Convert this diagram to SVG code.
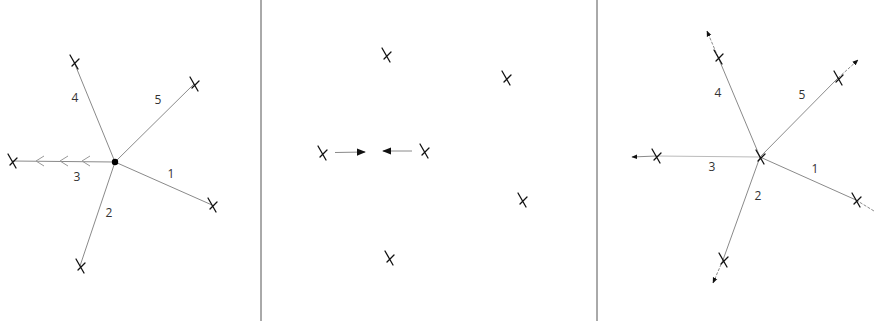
<svg xmlns="http://www.w3.org/2000/svg" xmlns:xlink="http://www.w3.org/1999/xlink" width="874" height="324" viewBox="0 0 874 324">
<style>
.bg{fill:#fff}
.div{stroke:#555;stroke-width:1}
.edge{stroke:#8a8a8a;stroke-width:1;fill:none}
.ext{stroke:#8a8a8a;stroke-width:1;fill:none;stroke-dasharray:3 1.5}
.chev{stroke:#999;stroke-width:1;fill:none}
.mk{stroke:#111;stroke-width:1.3;fill:none;stroke-linecap:round}
.lbl{font-family:"Open Sans","Liberation Sans",sans-serif;font-size:12px;fill:#333;text-anchor:middle}
</style>
<defs>
<g id="xm"><path class="mk" d="M-4,-7 L4,7 M-2,4 L5,-3"/></g>
<marker id="ah" viewBox="0 0 10 10" refX="9" refY="5" markerWidth="9" markerHeight="9" markerUnits="userSpaceOnUse" orient="auto"><path d="M0,1 L10,5 L0,9 Z" fill="#111"/></marker>
<marker id="ahs" viewBox="0 0 10 10" refX="9" refY="5" markerWidth="6" markerHeight="6" markerUnits="userSpaceOnUse" orient="auto"><path d="M0,1 L10,5 L0,9 Z" fill="#111"/></marker>
</defs>
<rect class="bg" width="874" height="324"/>
<line class="div" x1="261" y1="0" x2="261" y2="321"/>
<line class="div" x1="597" y1="0" x2="597" y2="321"/>

<g id="connectors">
  <!-- panel 1 -->
  <line class="edge" x1="115" y1="162" x2="74" y2="62"/>
  <line class="edge" x1="115" y1="162" x2="194" y2="84"/>
  <line class="edge" x1="115" y1="162" x2="12" y2="161"/>
  <line class="edge" x1="115" y1="162" x2="212" y2="205"/>
  <line class="edge" x1="115" y1="162" x2="80" y2="266"/>
  <path class="chev" d="M44,156 L36,161 L44,166 M68,156 L60,161 L68,166 M90,156 L82,161 L90,166"/>
  <!-- panel 2 -->
  <line class="edge" x1="335" y1="152.5" x2="365" y2="152" marker-end="url(#ah)"/>
  <line class="edge" x1="412" y1="151" x2="383" y2="151" marker-end="url(#ah)"/>
  <!-- panel 3 -->
  <line class="edge" x1="760" y1="157" x2="718" y2="57"/>
  <line class="ext" x1="718" y1="57" x2="707" y2="31" marker-end="url(#ahs)"/>
  <line class="edge" x1="760" y1="157" x2="838" y2="78"/>
  <line class="ext" x1="838" y1="78" x2="858" y2="60" marker-end="url(#ahs)"/>
  <line class="edge" x1="760" y1="157" x2="656" y2="156" style="stroke:#bbb"/>
  <line class="edge" x1="656" y1="156" x2="632" y2="157" marker-end="url(#ahs)"/>
  <line class="edge" x1="760" y1="157" x2="856" y2="200"/>
  <line class="ext" x1="856" y1="200" x2="874" y2="211"/>
  <line class="edge" x1="760" y1="157" x2="723" y2="260"/>
  <line class="ext" x1="723" y1="260" x2="713" y2="283" marker-end="url(#ahs)"/>
</g>

<g id="p1-center"><circle cx="115" cy="162" r="3.2" fill="#000"/></g>
<g id="p1-n4"><use xlink:href="#xm" x="74" y="62"/><text class="lbl" x="75" y="102">4</text></g>
<g id="p1-n5"><use xlink:href="#xm" x="194" y="84"/><text class="lbl" x="158" y="104">5</text></g>
<g id="p1-n3"><use xlink:href="#xm" x="12" y="161"/><text class="lbl" x="77" y="181">3</text></g>
<g id="p1-n1"><use xlink:href="#xm" x="212" y="205"/><text class="lbl" x="171" y="178">1</text></g>
<g id="p1-n2"><use xlink:href="#xm" x="80" y="266"/><text class="lbl" x="109" y="217">2</text></g>

<g id="p2-a"><use xlink:href="#xm" x="386" y="55"/></g>
<g id="p2-b"><use xlink:href="#xm" x="506" y="78"/></g>
<g id="p2-c"><use xlink:href="#xm" x="322" y="153"/></g>
<g id="p2-d"><use xlink:href="#xm" x="424" y="151"/></g>
<g id="p2-e"><use xlink:href="#xm" x="522" y="200"/></g>
<g id="p2-f"><use xlink:href="#xm" x="389" y="258"/></g>

<g id="p3-center"><use xlink:href="#xm" x="760" y="157"/></g>
<g id="p3-n4"><use xlink:href="#xm" x="718" y="57"/><text class="lbl" x="718" y="97">4</text></g>
<g id="p3-n5"><use xlink:href="#xm" x="838" y="78"/><text class="lbl" x="802" y="99">5</text></g>
<g id="p3-n3"><use xlink:href="#xm" x="656" y="156"/><text class="lbl" x="712" y="171">3</text></g>
<g id="p3-n1"><use xlink:href="#xm" x="856" y="200"/><text class="lbl" x="815" y="173">1</text></g>
<g id="p3-n2"><use xlink:href="#xm" x="723" y="260"/><text class="lbl" x="758" y="200">2</text></g>
</svg>
